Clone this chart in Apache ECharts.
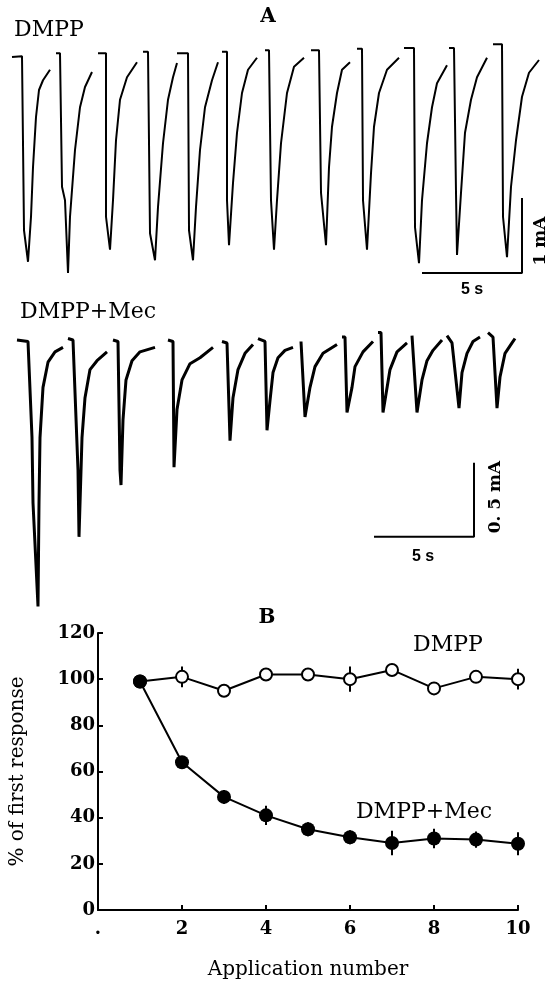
<!DOCTYPE html>
<html><head><meta charset="utf-8">
<script src="https://cdn.jsdelivr.net/npm/echarts@6/dist/echarts.min.js"></script>
<style>html,body{margin:0;padding:0;background:#fff}#c{width:548px;height:981px}</style>
</head><body><div id="c"></div>
<script>
// Panel A, trace 1 (DMPP): [time s, current mA] per application
const dmppPulses = [
  [[0.1,-0.16],[0.6,-0.15],[0.7,-2.47],[0.9,-2.89],[1.05,-2.29],[1.15,-1.63],[1.3,-0.96],[1.45,-0.60],[1.65,-0.47],[2.0,-0.33]],
  [[2.3,-0.11],[2.5,-0.11],[2.6,-1.89],[2.75,-2.07],[2.9,-3.04],[3.0,-2.29],[3.25,-1.40],[3.5,-0.83],[3.75,-0.56],[4.1,-0.36]],
  [[4.4,-0.11],[4.8,-0.11],[4.8,-2.29],[5.0,-2.73],[5.15,-2.07],[5.3,-1.27],[5.5,-0.73],[5.85,-0.43],[6.35,-0.23]],
  [[6.65,-0.09],[6.9,-0.09],[7.0,-2.51],[7.25,-2.87],[7.4,-2.16],[7.65,-1.31],[7.9,-0.73],[8.15,-0.43],[8.35,-0.24]],
  [[8.35,-0.11],[8.9,-0.11],[8.95,-2.47],[9.15,-2.87],[9.3,-2.16],[9.5,-1.40],[9.75,-0.83],[10.1,-0.47],[10.4,-0.23]],
  [[10.6,-0.09],[10.85,-0.09],[10.85,-2.07],[10.95,-2.67],[11.15,-1.84],[11.35,-1.17],[11.6,-0.64],[11.9,-0.33],[12.35,-0.17]],
  [[12.75,-0.07],[12.95,-0.07],[13.05,-2.07],[13.2,-2.73],[13.35,-2.07],[13.55,-1.31],[13.85,-0.64],[14.2,-0.29],[14.7,-0.17]],
  [[15.05,-0.07],[15.45,-0.07],[15.55,-1.97],[15.8,-2.67],[15.95,-1.63],[16.1,-1.09],[16.35,-0.64],[16.6,-0.33],[17.0,-0.23]],
  [[17.35,-0.05],[17.6,-0.05],[17.65,-2.07],[17.85,-2.73],[18.05,-1.71],[18.2,-1.09],[18.45,-0.64],[18.85,-0.33],[19.45,-0.17]],
  [[19.7,-0.04],[20.2,-0.04],[20.25,-2.43],[20.45,-2.91],[20.6,-2.07],[20.85,-1.31],[21.1,-0.83],[21.35,-0.51],[21.85,-0.27]],
  [[21.95,-0.04],[22.2,-0.04],[22.3,-1.97],[22.35,-2.80],[22.55,-1.97],[22.75,-1.17],[23.05,-0.73],[23.35,-0.43],[23.85,-0.17]],
  [[24.15,0.01],[24.6,0.01],[24.65,-2.29],[24.85,-2.83],[25.05,-1.89],[25.3,-1.27],[25.6,-0.69],[25.95,-0.37],[26.45,-0.20]]
];
// Panel A, trace 2 (DMPP + Mec)
const mecPulses = [
  [[0.35,0],[0.9,-0.01],[1.1,-0.66],[1.15,-1.10],[1.4,-1.80],[1.45,-1.10],[1.5,-0.66],[1.65,-0.32],[1.9,-0.15],[2.25,-0.08],[2.65,-0.05]],
  [[2.9,0.01],[3.15,0],[3.4,-0.88],[3.45,-1.33],[3.6,-0.66],[3.75,-0.39],[4.0,-0.20],[4.35,-0.14],[4.85,-0.08]],
  [[5.15,0],[5.4,-0.01],[5.5,-0.88],[5.55,-0.98],[5.65,-0.54],[5.8,-0.27],[6.1,-0.14],[6.5,-0.08],[7.25,-0.05]],
  [[7.9,0],[8.15,-0.01],[8.2,-0.86],[8.35,-0.47],[8.6,-0.27],[9.0,-0.16],[9.5,-0.12],[10.15,-0.05]],
  [[10.6,-0.01],[10.85,-0.02],[11.0,-0.68],[11.15,-0.39],[11.4,-0.20],[11.75,-0.09],[12.15,-0.03]],
  [[12.4,0.01],[12.75,-0.01],[12.85,-0.61],[13.0,-0.41],[13.15,-0.22],[13.4,-0.12],[13.75,-0.07],[14.15,-0.05]],
  [[14.55,-0.01],[14.65,-0.01],[14.75,-0.52],[15.0,-0.32],[15.25,-0.18],[15.65,-0.09],[16.35,-0.03]],
  [[16.6,0.02],[16.75,0.02],[16.85,-0.49],[17.1,-0.32],[17.25,-0.18],[17.65,-0.08],[18.15,-0.01]],
  [[18.4,0.05],[18.55,0.05],[18.65,-0.49],[19.0,-0.20],[19.35,-0.08],[19.85,-0.02]],
  [[20.1,0.03],[20.2,0.03],[20.35,-0.49],[20.6,-0.27],[20.85,-0.14],[21.15,-0.07],[21.6,0]],
  [[21.85,0.03],[22.1,-0.02],[22.45,-0.46],[22.6,-0.22],[22.85,-0.09],[23.15,-0.01],[23.5,0.02]],
  [[23.9,0.05],[24.15,0.02],[24.35,-0.46],[24.5,-0.25],[24.75,-0.09],[25.1,-0.02],[25.25,0.01]]
];
// scale bars (s, mA)
const scaleBar1 = [[20.6,-3.04],[25.6,-3.04],[25.6,-2.04]];
const scaleBar2 = [[18.2,-1.33],[23.2,-1.33],[23.2,-0.83]];

// Panel B
const appNumbers = [1,2,3,4,5,6,7,8,9,10];
const dmppPercent = [99,101,95,102,102,100,104,96,101,100];
const dmppSE = [0,4.5,2,2,2,5.5,2,2,2,4.5];
const mecPercent = [99,64,49,41,35,31.5,29,31,30.5,28.7];
const mecSE = [0,2,3,4.2,3,3,5.3,4.2,3.5,5];

const SERIF = 'DejaVu Serif';
const chart = echarts.init(document.getElementById('c'), null, {renderer:'canvas'});

const series = [];
dmppPulses.forEach(p => series.push({type:'line', xAxisIndex:0, yAxisIndex:0, data:p, symbol:'none', lineStyle:{color:'#000', width:2}, animation:false}));
mecPulses.forEach(p => series.push({type:'line', xAxisIndex:1, yAxisIndex:1, data:p, symbol:'none', lineStyle:{color:'#000', width:3}, animation:false}));
series.push({type:'line', xAxisIndex:0, yAxisIndex:0, data:scaleBar1, symbol:'none', lineStyle:{color:'#000', width:2}, animation:false});
series.push({type:'line', xAxisIndex:1, yAxisIndex:1, data:scaleBar2, symbol:'none', lineStyle:{color:'#000', width:2}, animation:false});

function errData(vals, se){ return appNumbers.map((x,i)=>[x, vals[i]-se[i], vals[i]+se[i]]); }
function errRender(params, api){
  const p1 = api.coord([api.value(0), api.value(1)]);
  const p2 = api.coord([api.value(0), api.value(2)]);
  return {type:'line', shape:{x1:p1[0], y1:p1[1], x2:p2[0], y2:p2[1]}, style:{stroke:'#000', lineWidth:2}};
}
series.push({type:'custom', xAxisIndex:2, yAxisIndex:2, data:errData(dmppPercent, dmppSE), renderItem:errRender, z:1, animation:false});
series.push({type:'custom', xAxisIndex:2, yAxisIndex:2, data:errData(mecPercent, mecSE), renderItem:errRender, z:1, animation:false});
series.push({type:'line', xAxisIndex:2, yAxisIndex:2, data:appNumbers.map((x,i)=>[x,dmppPercent[i]]), symbol:'circle', symbolSize:12,
  itemStyle:{color:'#fff', borderColor:'#000', borderWidth:2}, lineStyle:{color:'#000', width:2}, z:3, animation:false});
series.push({type:'line', xAxisIndex:2, yAxisIndex:2, data:appNumbers.map((x,i)=>[x,mecPercent[i]]), symbol:'circle', symbolSize:14,
  itemStyle:{color:'#000', borderColor:'#000', borderWidth:0}, lineStyle:{color:'#000', width:2}, z:4, animation:false});

const txt = (x,y,text,size,opts={}) => Object.assign({type:'text', x, y, style:{text, fill:'#000', font:(opts.weight||'normal')+' '+size+'px '+(opts.family||SERIF), textAlign:opts.align||'center', textVerticalAlign:'middle'}}, opts.rot?{rotation:opts.rot}:{});

const option = {
  backgroundColor:'#fff',
  animation:false,
  grid:[
    {left:10, top:30, width:538, height:262.5},
    {left:10, top:310.4, width:538, height:310.8},
    {left:96, top:633, width:422, height:283}
  ],
  xAxis:[
    {gridIndex:0, type:'value', min:0, max:26.9, show:false},
    {gridIndex:1, type:'value', min:0, max:26.9, show:false},
    {gridIndex:2, type:'value', min:0, max:10, interval:2,
      name:'Application number', nameLocation:'middle', nameGap:50,
      nameTextStyle:{fontFamily:SERIF, fontSize:20, color:'#000'},
      axisLine:{lineStyle:{color:'#000', width:2}},
      axisTick:{inside:true, length:5, lineStyle:{color:'#000', width:2}},
      axisLabel:{fontFamily:SERIF, fontSize:18, fontWeight:'bold', color:'#000', margin:10, formatter:v=> v===0?'.':String(v)},
      splitLine:{show:false}}
  ],
  yAxis:[
    {gridIndex:0, type:'value', min:-3.3, max:0.2, show:false},
    {gridIndex:1, type:'value', min:-1.9, max:0.2, show:false},
    {gridIndex:2, type:'value', min:0, max:120, interval:20,
      name:'% of first response', nameLocation:'middle', nameGap:70,
      nameTextStyle:{fontFamily:SERIF, fontSize:20, color:'#000'},
      axisLine:{show:true, lineStyle:{color:'#000', width:2}},
      axisTick:{show:true, inside:true, length:5, lineStyle:{color:'#000', width:2}},
      axisLabel:{fontFamily:SERIF, fontSize:18, fontWeight:'bold', color:'#000', margin:3, formatter:v=>String(v)},
      splitLine:{show:false}}
  ],
  graphic:[
    txt(268,17,'A',20,{weight:'bold'}),
    txt(14,30,'DMPP',22,{align:'left'}),
    txt(541,241,'1 mA',17,{weight:'bold', rot:Math.PI/2}),
    txt(472,290,'5 s',16,{weight:'bold', family:'Liberation Sans'}),
    txt(20,312,'DMPP+Mec',22,{align:'left'}),
    txt(496,497,'0. 5 mA',17,{weight:'bold', rot:Math.PI/2}),
    txt(423,557,'5 s',16,{weight:'bold', family:'Liberation Sans'}),
    txt(267,618,'B',20,{weight:'bold'}),
    txt(448,645,'DMPP',22),
    txt(424,812,'DMPP+Mec',22)
  ],
  series
};
chart.setOption(option);
</script></body></html>
